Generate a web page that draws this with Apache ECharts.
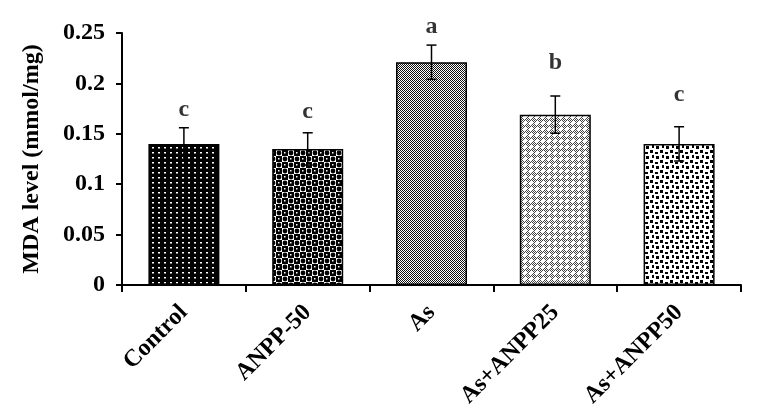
<!DOCTYPE html>
<html>
<head>
<meta charset="utf-8">
<script src="https://cdn.jsdelivr.net/npm/echarts@6/dist/echarts.min.js"></script>
<style>html,body{margin:0;padding:0;background:#fff}#c{width:762px;height:420px}</style>
</head>
<body>
<div id="c"></div>
<script>
const categories = ['Control', 'ANPP-50', 'As', 'As+ANPP25', 'As+ANPP50'];
const means = [0.140, 0.135, 0.221, 0.169, 0.140];
const errors = [0.016, 0.016, 0.017, 0.0185, 0.017];
const letters = ['c', 'c', 'a', 'b', 'c'];
const letterY = [0.174, 0.172, 0.256, 0.220, 0.1885];
const yTicks = { min: 0, max: 0.25, interval: 0.05 };

function tile(w, h, draw) {
  const c = document.createElement('canvas');
  c.width = w; c.height = h;
  const ctx = c.getContext('2d');
  draw(ctx);
  return c;
}
const patterns = [
  tile(6, 5, ctx => { ctx.fillStyle = '#000'; ctx.fillRect(0, 0, 6, 5); ctx.fillStyle = '#fff'; ctx.fillRect(2, 2, 2, 1.5); }),
  tile(12, 12, ctx => {
    ctx.fillStyle = '#fff'; ctx.fillRect(0, 0, 12, 12);
    ctx.fillStyle = '#000';
    ctx.fillRect(0, 0, 6, 6); ctx.fillRect(6, 6, 6, 6);
    ctx.beginPath(); ctx.arc(9, 3, 2.4, 0, Math.PI * 2); ctx.fill();
    ctx.beginPath(); ctx.arc(3, 9, 2.4, 0, Math.PI * 2); ctx.fill();
    ctx.fillStyle = '#fff';
    ctx.fillRect(2, 2, 1.5, 1.5); ctx.fillRect(8, 8, 1.5, 1.5);
  }),
  tile(2, 2, ctx => { ctx.fillStyle = '#fff'; ctx.fillRect(0, 0, 2, 2); ctx.fillStyle = '#111'; ctx.fillRect(0, 0, 1, 1); ctx.fillRect(1, 1, 1, 1); }),
  tile(6, 6, ctx => {
    ctx.fillStyle = '#fff'; ctx.fillRect(0, 0, 6, 6);
    ctx.fillStyle = '#444';
    for (let y = 0; y < 6; y++) for (let x = 0; x < 6; x++) if ((x + y) % 2 === 0) ctx.fillRect(x, y, 1, 1);
    ctx.fillStyle = '#fff';
    ctx.fillRect(2, 1, 2, 4); ctx.fillRect(1, 2, 4, 2);
  }),
  tile(10, 10, ctx => {
    ctx.fillStyle = '#fff'; ctx.fillRect(0, 0, 10, 10);
    ctx.fillStyle = '#000';
    ctx.fillRect(0, 0, 3, 3); ctx.fillRect(5, 2, 3, 2); ctx.fillRect(2, 5, 2, 3); ctx.fillRect(6, 6, 3, 3);
  })
];

const serif = 'Liberation Serif';
const chart = echarts.init(document.getElementById('c'), null, { renderer: 'canvas' });
const barData = means.map((v, i) => ({
  value: v,
  itemStyle: { color: { image: patterns[i], repeat: 'repeat' }, borderColor: '#000', borderWidth: 1.5 }
}));
const errData = means.map((v, i) => [i, v - errors[i], v + errors[i]]);
const letterData = letterY.map((v, i) => [i, v]);

chart.setOption({
  animation: false,
  backgroundColor: '#fff',
  grid: { left: 122, right: 21, top: 33, bottom: 135 },
  xAxis: {
    type: 'category',
    data: categories,
    axisLine: { lineStyle: { color: '#000', width: 2 } },
    axisTick: { show: true, interval: 0, length: 7, lineStyle: { color: '#000', width: 2 } },
    axisLabel: { interval: 0, rotate: 45, margin: 24, color: '#000', fontFamily: serif, fontWeight: 'bold', fontSize: 24 }
  },
  yAxis: {
    type: 'value',
    min: yTicks.min, max: yTicks.max, interval: yTicks.interval,
    name: 'MDA level (mmol/mg)',
    nameLocation: 'middle',
    nameGap: 78,
    nameTextStyle: { color: '#000', fontFamily: serif, fontWeight: 'bold', fontSize: 24 },
    axisLine: { show: true, lineStyle: { color: '#000', width: 2 } },
    axisTick: { show: true, length: 6, lineStyle: { color: '#000', width: 2 } },
    splitLine: { show: false },
    axisLabel: { margin: 17, color: '#000', fontFamily: serif, fontWeight: 'bold', fontSize: 24 }
  },
  series: [
    { type: 'bar', data: barData, barWidth: 71 },
    {
      type: 'custom',
      data: errData,
      z: 5,
      renderItem: (params, api) => {
        const x = api.value(0);
        const lo = api.coord([x, api.value(1)]);
        const hi = api.coord([x, api.value(2)]);
        const hw = 5;
        const st = { stroke: '#000', lineWidth: 1.5 };
        return {
          type: 'group',
          children: [
            { type: 'line', shape: { x1: lo[0], y1: lo[1], x2: hi[0], y2: hi[1] }, style: st },
            { type: 'line', shape: { x1: hi[0] - hw, y1: hi[1], x2: hi[0] + hw, y2: hi[1] }, style: st },
            { type: 'line', shape: { x1: lo[0] - hw, y1: lo[1], x2: lo[0] + hw, y2: lo[1] }, style: st }
          ]
        };
      }
    },
    {
      type: 'scatter',
      data: letterData,
      symbolSize: 1,
      z: 6,
      clip: false,
      itemStyle: { color: 'rgba(0,0,0,0)' },
      label: {
        show: true, position: 'inside',
        formatter: p => letters[p.dataIndex],
        color: '#000', fontFamily: serif, fontWeight: 'bold', fontSize: 24
      }
    }
  ]
});
</script>
</body>
</html>
